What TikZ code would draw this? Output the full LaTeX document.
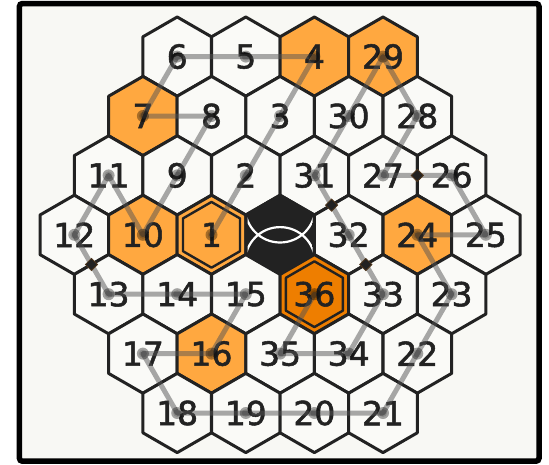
\documentclass[tikz,border=0pt]{standalone}
\usepackage{fontspec}
\setmainfont{DejaVu Sans}
\newfontfamily\numfont{DejaVu Sans}[FakeBold=1.6]
\usetikzlibrary{shapes.geometric,calc}
\definecolor{ink}{HTML}{222222}
\definecolor{lightor}{HTML}{FFA840}
\definecolor{darkor}{HTML}{EE7E00}
\definecolor{paper}{HTML}{F8F8F4}
\definecolor{cellbg}{HTML}{FAFAF7}
\newcommand\hexpts{(90:39.6) -- (30:39.6) -- (-30:39.6) -- (-90:39.6) -- (-150:39.6) -- (150:39.6) -- cycle}
\begin{document}
\begin{tikzpicture}[x=1pt,y=-1pt,
  cellline/.style={draw=ink,line width=3pt,line join=round},
  ringline/.style={draw=ink,line width=2.4pt,line join=round},
  num/.style={text=ink,font=\numfont\fontsize{33}{33}\selectfont,inner sep=0pt},
  conn/.style={draw=black!67,line width=5pt,draw opacity=0.5,line cap=round,line join=round},
  dotmark/.style={fill=black,fill opacity=0.35},
  diam/.style={diamond,fill=ink,draw=ink!80!orange,line width=0.8pt,minimum size=12.5pt,inner sep=0pt}]
\fill[white] (0,0) rectangle (549,464);
\useasboundingbox (0,0) rectangle (549,464);
\draw[line width=5.5pt,rounded corners=3pt,fill=paper] (19.4,3.5) rectangle (539,461.2);
% cells
\foreach \x/\y/\c in {
  177.2/56.6/cellbg, 245.8/56.6/cellbg, 314.4/56.6/lightor, 383/56.6/lightor,
  142.9/116/lightor, 211.5/116/cellbg, 280.1/116/cellbg, 348.7/116/cellbg, 417.3/116/cellbg,
  108.6/175.4/cellbg, 177.2/175.4/cellbg, 245.8/175.4/cellbg, 314.4/175.4/cellbg, 383/175.4/cellbg, 451.6/175.4/cellbg,
  74.3/234.8/cellbg, 142.9/234.8/lightor, 211.5/234.8/lightor, 280.1/234.8/ink, 348.7/234.8/cellbg, 417.3/234.8/lightor, 485.9/234.8/cellbg,
  108.6/294.2/cellbg, 177.2/294.2/cellbg, 245.8/294.2/cellbg, 314.4/294.2/darkor, 383/294.2/cellbg, 451.6/294.2/cellbg,
  142.9/353.6/cellbg, 211.5/353.6/lightor, 280.1/353.6/cellbg, 348.7/353.6/cellbg, 417.3/353.6/cellbg,
  177.2/413/cellbg, 245.8/413/cellbg, 314.4/413/cellbg, 383/413/cellbg}
  {\draw[cellline,fill=\c,shift={(\x,\y)}] \hexpts;}
% rings of the marked cells
\draw[ringline,shift={(211.5,234.8)},scale=0.83] \hexpts;
\draw[ringline,shift={(314.4,294.2)},scale=0.83] \hexpts;
% centre cell emblem
\begin{scope}[shift={(280.1,234.8)}]
  \clip[scale=0.95] \hexpts;
  \draw[white,line width=2.2pt] (0,-27.4) circle [radius=35.1pt];
  \draw[white,line width=2.2pt] (0,27.4) circle [radius=35.1pt];
\end{scope}
% numbers
\node[num] (c6) at (177.2,56.6) {6};
\node[num] (c5) at (245.8,56.6) {5};
\node[num] (c4) at (314.4,56.6) {4};
\node[num] (c29) at (383,56.6) {29};
\node[num] (c7) at (142.9,116) {7};
\node[num] (c8) at (211.5,116) {8};
\node[num] (c3) at (280.1,116) {3};
\node[num] (c30) at (348.7,116) {30};
\node[num] (c28) at (417.3,116) {28};
\node[num] (c11) at (108.6,175.4) {11};
\node[num] (c9) at (177.2,175.4) {9};
\node[num] (c2) at (245.8,175.4) {2};
\node[num] (c31) at (314.4,175.4) {31};
\node[num] (c27) at (383,175.4) {27};
\node[num] (c26) at (451.6,175.4) {26};
\node[num] (c12) at (74.3,234.8) {12};
\node[num] (c10) at (142.9,234.8) {10};
\node[num] (c1) at (211.5,234.8) {1};
\node[num] (c32) at (348.7,234.8) {32};
\node[num] (c24) at (417.3,234.8) {24};
\node[num] (c25) at (485.9,234.8) {25};
\node[num] (c13) at (108.6,294.2) {13};
\node[num] (c14) at (177.2,294.2) {14};
\node[num] (c15) at (245.8,294.2) {15};
\node[num] (c36) at (314.4,294.2) {36};
\node[num] (c33) at (383,294.2) {33};
\node[num] (c23) at (451.6,294.2) {23};
\node[num] (c17) at (142.9,353.6) {17};
\node[num] (c16) at (211.5,353.6) {16};
\node[num] (c35) at (280.1,353.6) {35};
\node[num] (c34) at (348.7,353.6) {34};
\node[num] (c22) at (417.3,353.6) {22};
\node[num] (c18) at (177.2,413) {18};
\node[num] (c19) at (245.8,413) {19};
\node[num] (c20) at (314.4,413) {20};
\node[num] (c21) at (383,413) {21};
% path
\draw[conn] (c1.center) -- (c2.center) -- (c3.center) -- (c4.center) -- (c5.center) -- (c6.center)
  -- (c7.center) -- (c8.center) -- (c9.center) -- (c10.center) -- (c11.center) -- (c12.center)
  -- (c13.center) -- (c14.center) -- (c15.center) -- (c16.center) -- (c17.center) -- (c18.center)
  -- (c19.center) -- (c20.center) -- (c21.center) -- (c22.center) -- (c23.center) -- (c24.center)
  -- (c25.center) -- (c26.center) -- (c27.center) -- (c28.center) -- (c29.center) -- (c30.center)
  -- (c31.center) -- (c32.center) -- (c33.center) -- (c34.center) -- (c35.center) -- (c36.center);
\foreach \n in {1,...,36} {
  \fill[dotmark] (c\n.center) circle [radius=6pt];
  \fill[black,fill opacity=0.15] (c\n.center) circle [radius=4pt];
}
% markers on some links
\node[diam] (d1) at ($(c26.center)!0.5!(c27.center)$) {};
\node[diam] (d2) at ($(c31.center)!0.5!(c32.center)$) {};
\node[diam] (d3) at ($(c32.center)!0.5!(c33.center)$) {};
\node[diam] (d4) at ($(c12.center)!0.5!(c13.center)$) {};
\end{tikzpicture}
\end{document}
